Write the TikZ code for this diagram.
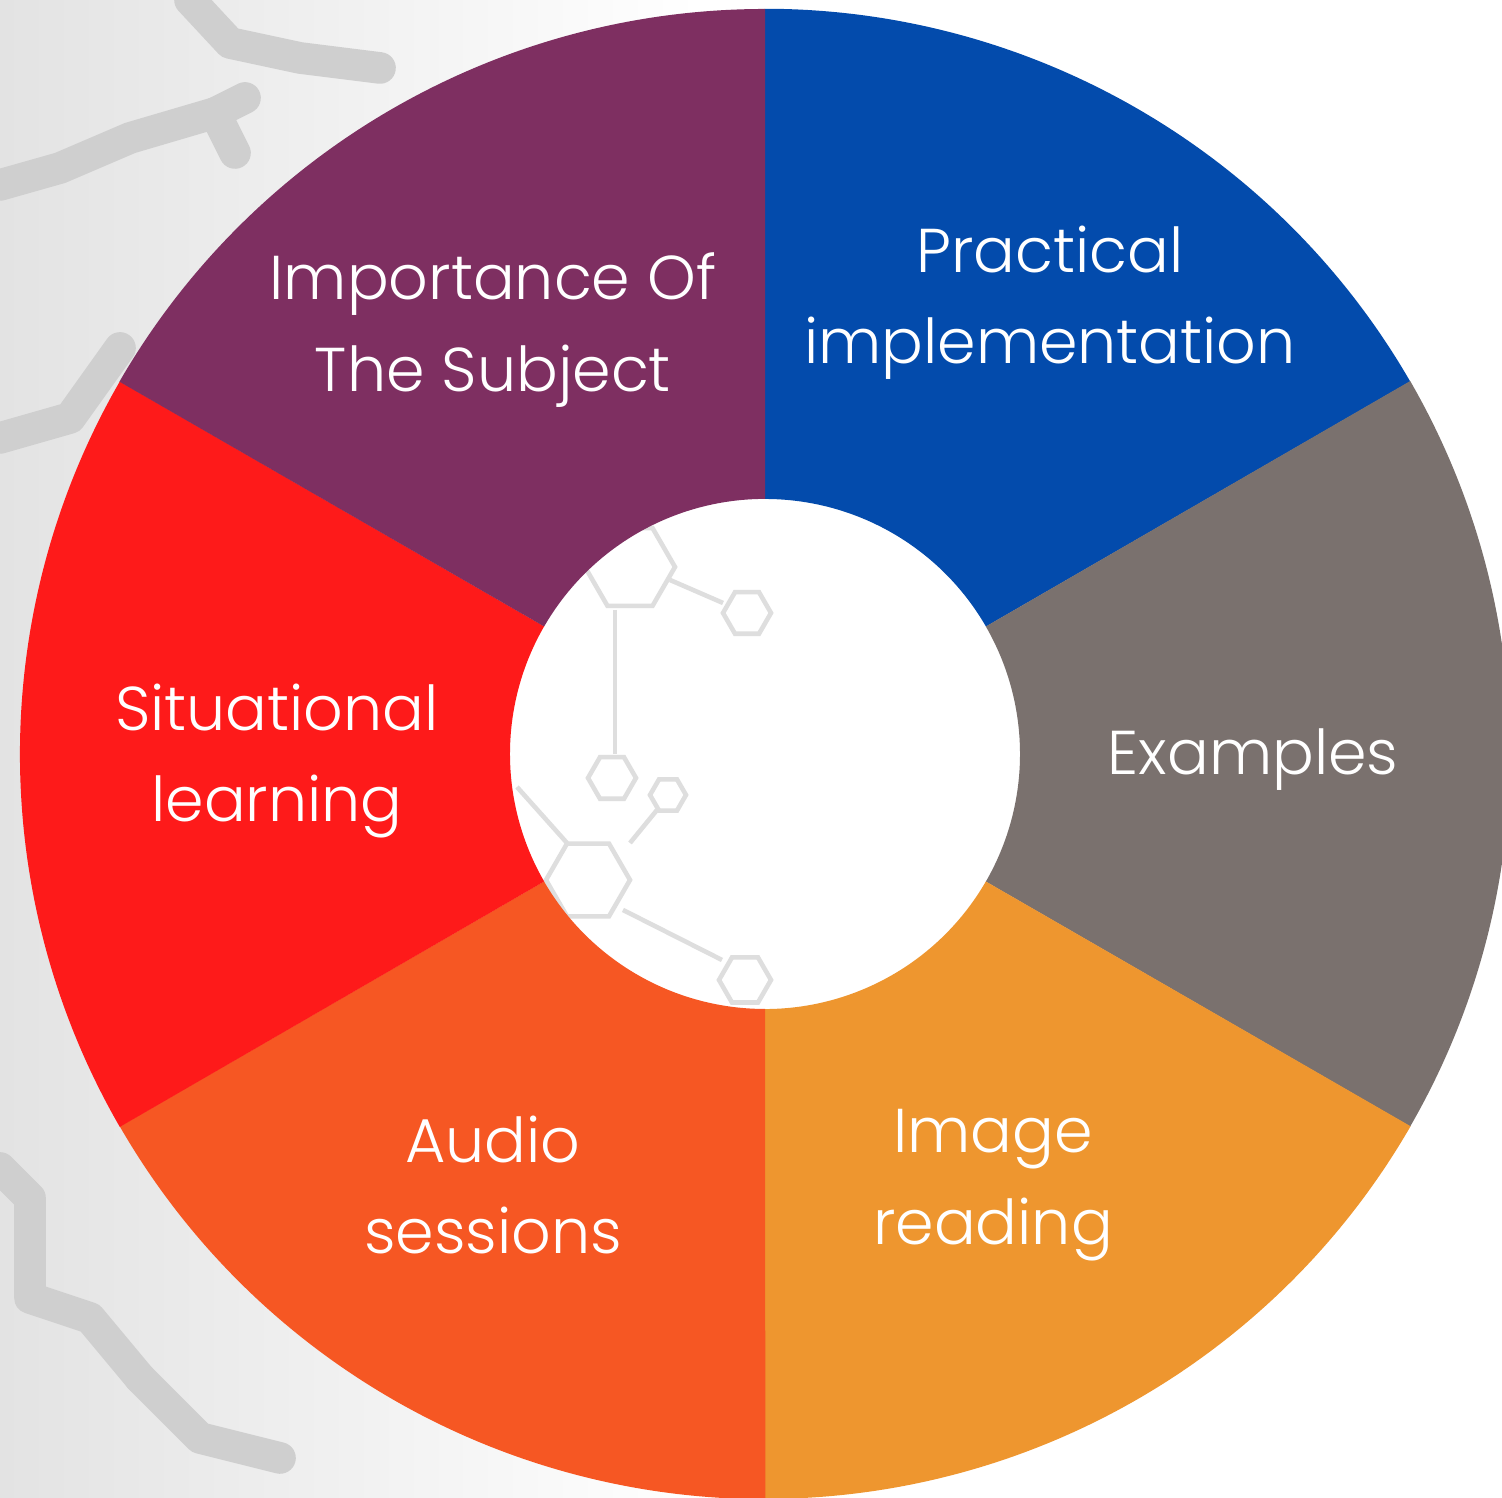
\documentclass[tikz,border=0pt]{standalone}
\usepackage{fontspec}
\setmainfont{Poppins}[UprightFont=* Light]
\usetikzlibrary{calc}

\definecolor{importance}{HTML}{7E2F61}
\definecolor{practical}{HTML}{034BAC}
\definecolor{examples}{HTML}{7A716E}
\definecolor{imagecol}{HTML}{EE962F}
\definecolor{audio}{HTML}{F65723}
\definecolor{situation}{HTML}{FE1A1A}

\tikzset{
    label/.style={text=white, align=center, font=\fontsize{17.6}{26}\selectfont},
    molecule/.style={draw=black!13, line width=1.3pt},
    branch/.style={draw=black!19, line width=9pt, line join=round, line cap=round}
}
\newcommand{\hexcell}[3]{%
    \draw[molecule] (#1,#2) ++(0:#3) -- ++(120:#3) -- ++(180:#3) -- ++(240:#3) -- ++(300:#3) -- ++(0:#3) -- cycle;}

\begin{document}
\begin{tikzpicture}[x=0.01cm, y=0.01cm]
    \useasboundingbox (0,0) rectangle (1502,1498);

    % Background texture on the left
    \shade[left color=black!11, right color=white] (0,0) rectangle (700,1498);
    \draw[branch] (0,1313) -- (60,1330) -- (130,1360) -- (215,1385) -- (245,1400);
    \draw[branch] (215,1385) -- (235,1345);
    \draw[branch] (190,1498) -- (230,1455) -- (300,1440) -- (380,1430);
    \draw[branch] (0,1060) -- (70,1080) -- (120,1150);
    \draw[branch] (0,330) -- (30,300) -- (30,200) -- (90,180) -- (140,120);
    \draw[branch] (140,120) -- (200,60) -- (280,40);

    % Molecules behind the hole
    \coordinate (c) at (765,744);
    \fill[white] (c) circle[radius=2.6cm];
    \hexcell{630}{931}{45}
    \hexcell{612}{720}{24}
    \hexcell{747}{885}{24}
    \hexcell{668}{703}{18}
    \hexcell{588}{618}{42}
    \hexcell{745}{518}{26}
    \draw[molecule] (615,888) -- (615,744);
    \draw[molecule] (670,918) -- (723,895);
    \draw[molecule] (657,688) -- (630,655);
    \draw[molecule] (623,588) -- (722,538);
    \draw[molecule] (517,711) -- (567,655);

    % Ring segments
    \foreach \a/\b/\col in {30/90/practical, -30/30/examples, -90/-30/imagecol,
                            -150/-90/audio, 150/210/situation, 90/150/importance} {
        \fill[\col] ($(c)+(\a:745)$) arc[start angle=\a, end angle=\b, radius=7.45cm]
            -- ($(c)+(\b:255)$) arc[start angle=\b, end angle=\a, radius=2.55cm] -- cycle;
    }

    % Labels
    \node[label] (importanceText) at (493,1168) {Importance Of\\The Subject};
    \node[label] (practicalText) at (1050,1195) {Practical\\implementation};
    \node[label] (examplesText) at (1253,738) {Examples};
    \node[label] (imageText) at (993,313) {Image\\reading};
    \node[label] (audioText) at (493,313) {Audio\\sessions};
    \node[label] (situationText) at (277,737) {Situational\\learning};
\end{tikzpicture}
\end{document}
